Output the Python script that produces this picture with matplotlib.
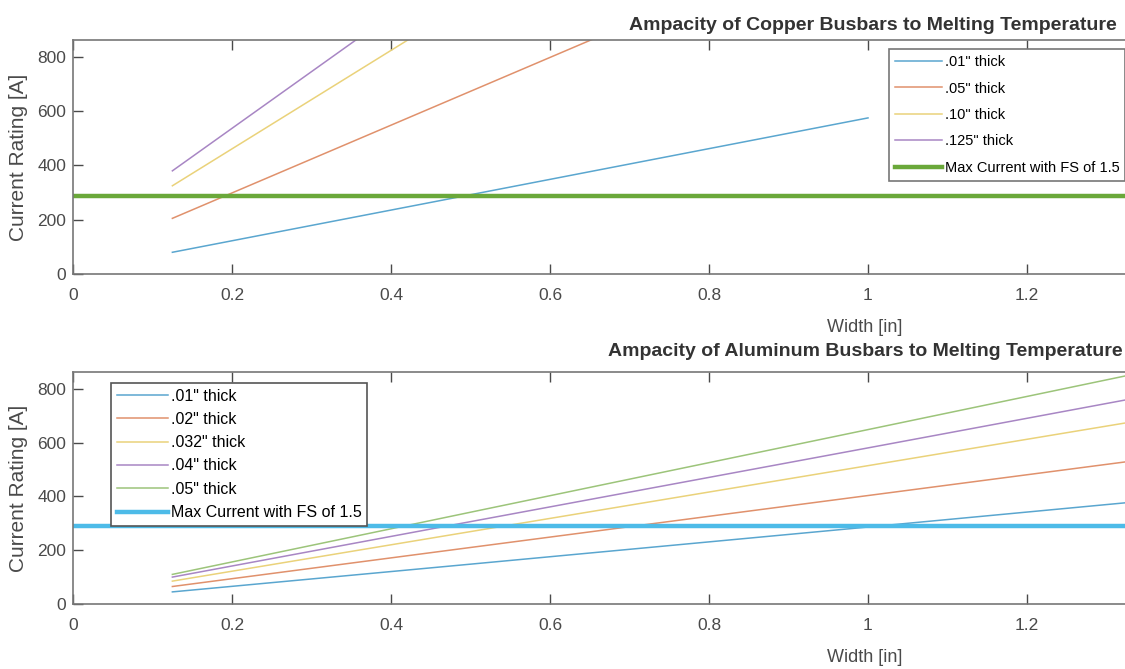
import matplotlib
matplotlib.use("Agg")
import matplotlib.pyplot as plt

plt.rcParams["font.family"] = ["Liberation Sans", "DejaVu Sans"]

# copper busbars
cu_width = [0.125, 0.5, 1.0]
cu_labels = ['.01" thick', '.05" thick', '.10" thick', '.125" thick']
cu_current = [
    [80, 292, 575],
    [205, 673, 1297],
    [325, 1005, 1912],
    [380, 1163, 2206],
]

# aluminum busbars
al_width = [0.125, 0.5, 1.0, 1.5]
al_labels = ['.01" thick', '.02" thick', '.032" thick', '.04" thick', '.05" thick']
al_current = [
    [45, 148, 286, 425],
    [65, 210, 403, 596],
    [85, 269, 514, 759],
    [100, 306, 580, 855],
    [110, 341, 648, 956],
]

max_current = 288
max_label = "Max Current with FS of 1.5"

thin_colors = ["#5aa6cf", "#e0916c", "#ead27a", "#a886c4", "#9cc47a"]
cu_max_color = "#6aa83a"
al_max_color = "#4dbbe8"
axis_gray = "#4a4a4a"

fig = plt.figure(figsize=(11.25, 6.69), dpi=100)
W, H = 1125, 669


def setup_axes(ax, title, h_px, title_x_px, title_off_px):
    ax.set_xlim(0, 1052 / 795)
    ax.set_ylim(0, 862)
    ax.set_xticks([0, 0.2, 0.4, 0.6, 0.8, 1.0, 1.2])
    ax.set_xticklabels(["0", "0.2", "0.4", "0.6", "0.8", "1", "1.2"])
    ax.set_yticks([0, 200, 400, 600, 800])
    ax.tick_params(direction="in", top=True, right=False, length=7, width=1,
                   colors=axis_gray, labelsize=12.5)
    ax.tick_params(axis="x", pad=10)
    ax.tick_params(axis="y", pad=5)
    for s in ["left", "top", "bottom"]:
        ax.spines[s].set_color("#777777")
        ax.spines[s].set_linewidth(1.2)
    ax.spines["right"].set_visible(False)
    ax.set_ylabel("Current Rating [A]", color=axis_gray, fontsize=15)
    ax.yaxis.set_label_coords(-45 / 1052, 0.5)
    ax.set_xlabel("Width [in]", color=axis_gray, fontsize=13)
    ax.xaxis.set_label_coords((865 - 73) / 1052, -45 / h_px)
    ax.text((title_x_px - 73) / 1052, 1 + title_off_px / h_px, title,
            transform=ax.transAxes, ha="center", va="center", fontsize=14,
            fontweight="bold", color="#333333")


ax1 = fig.add_axes([73 / W, 1 - 274 / H, 1052 / W, 234 / H])
for vals, lab, c in zip(cu_current, cu_labels, thin_colors):
    ax1.plot(cu_width, vals, color=c, linewidth=1.1, label=lab)
ax1.axhline(max_current, color=cu_max_color, linewidth=3.2, label=max_label)
setup_axes(ax1, "Ampacity of Copper Busbars to Melting Temperature", 234, 873, 14)
leg1 = ax1.legend(loc="upper left", bbox_to_anchor=(882 / W, 1 - 42 / H),
                  bbox_transform=fig.transFigure, fancybox=False, framealpha=1,
                  edgecolor="#777777", fontsize=10.5, handlelength=3.2,
                  labelspacing=0.85, handletextpad=0.2, borderpad=0.4)
leg1.get_frame().set_linewidth(1.2)

ax2 = fig.add_axes([73 / W, 1 - 604 / H, 1052 / W, 232 / H])
for vals, lab, c in zip(al_current, al_labels, thin_colors):
    ax2.plot(al_width, vals, color=c, linewidth=1.1, label=lab)
ax2.axhline(max_current, color=al_max_color, linewidth=3.2, label=max_label)
setup_axes(ax2, "Ampacity of Aluminum Busbars to Melting Temperature", 232, 865, 20)
leg2 = ax2.legend(loc="upper left", bbox_to_anchor=(103 / W, 1 - 375 / H),
                  bbox_transform=fig.transFigure, fancybox=False, framealpha=1,
                  edgecolor="#555555", fontsize=11.5, handlelength=3.2,
                  labelspacing=0.52, handletextpad=0.2, borderpad=0.35)
leg2.get_frame().set_linewidth(1.2)

fig.savefig("out.png", dpi=100)
plt.close(fig)
